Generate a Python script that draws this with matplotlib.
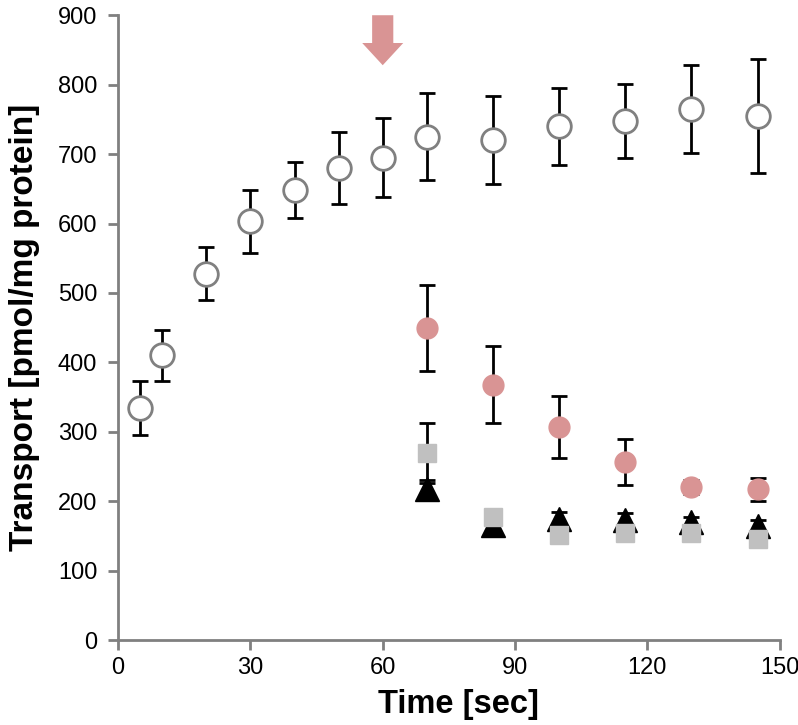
import numpy as np
import matplotlib
matplotlib.use('agg')
import matplotlib.pyplot as plt

plt.rcParams['font.family'] = ['Liberation Sans', 'DejaVu Sans']

# control (open circles)
t_ctrl = [5, 10, 20, 30, 40, 50, 60, 70, 85, 100, 115, 130, 145]
y_ctrl = [334, 410, 528, 603, 648, 680, 695, 725, 720, 740, 748, 765, 755]
e_ctrl = [39, 37, 38, 45, 40, 52, 57, 63, 63, 55, 53, 64, 82]

# after addition at 60 s
t_post = [70, 85, 100, 115, 130, 145]
y_pink = [450, 368, 307, 257, 221, 217]
e_pink = [62, 55, 45, 33, 10, 17]
y_tri = [218, 166, 175, 173, 170, 165]
e_tri = [12, 8, 10, 10, 8, 8]
y_sq = [270, 177, 151, 154, 155, 146]
e_sq = [43, 0, 0, 0, 0, 0]

pink = '#d99494'
gray = '#808080'

fig = plt.figure(figsize=(7.98, 7.25), dpi=100)
ax = fig.add_axes([0.148, 0.117, 0.829, 0.862])

ekw = dict(ecolor='black', elinewidth=2, capsize=6, capthick=2, linestyle='none')
ax.errorbar(t_ctrl, y_ctrl, yerr=e_ctrl, marker='o', ms=17, mfc='white', mec=gray, mew=2, zorder=3, **ekw)
ax.errorbar(t_post, y_pink, yerr=e_pink, marker='o', ms=15, mfc=pink, mec=pink, zorder=3, **ekw)
ax.errorbar(t_post, y_tri, yerr=e_tri, marker='^', ms=17, mfc='black', mec='black', zorder=4, **ekw)
ax.errorbar(t_post, y_sq, yerr=e_sq, marker='s', ms=13.5, mfc='#c0c0c0', mec='#c0c0c0', zorder=5, **ekw)

# arrow marking the addition time
ax.arrow(60, 900, 0, -72, width=4.8, head_width=9.3, head_length=32,
         length_includes_head=True, color=pink, lw=0, clip_on=False, zorder=6)

ax.set_xlim(0, 150)
ax.set_ylim(0, 900)
ax.set_xticks(np.arange(0, 151, 30))
ax.set_yticks(np.arange(0, 901, 100))
for s in ['top', 'right']:
    ax.spines[s].set_visible(False)
for s in ['left', 'bottom']:
    ax.spines[s].set_color(gray)
    ax.spines[s].set_linewidth(2)
ax.tick_params(direction='out', length=7, width=2, color=gray, labelsize=17)
ax.tick_params(axis='x', pad=5)
ax.tick_params(axis='y', pad=8)
ax.set_xlabel('Time [sec]', fontsize=23.5, fontweight='bold')
ax.set_ylabel('Transport [pmol/mg protein]', fontsize=24, fontweight='bold')
ax.xaxis.set_label_coords(0.514, -0.078)
ax.yaxis.set_label_coords(-0.118, 0.5)

fig.savefig('out.png', dpi=100)
